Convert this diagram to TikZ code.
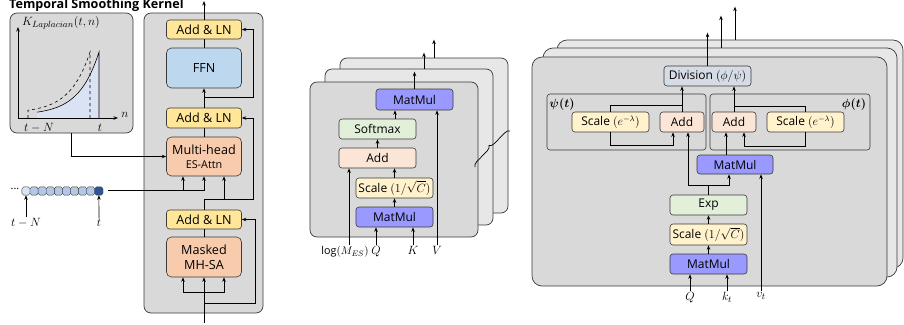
\documentclass[tikz,border=0pt]{standalone}
\usepackage{amsmath}
\usepackage{fontspec}
\setmainfont{Open Sans}
\usepackage{tikz}
\usetikzlibrary{arrows.meta,calc,decorations.pathreplacing}

\definecolor{edgecol}{HTML}{3A3A3A}
\definecolor{panelgray}{HTML}{D9D9D9}
\definecolor{backgray}{HTML}{E7E7E7}
\definecolor{lnyellow}{HTML}{FFE699}
\definecolor{ffnblue}{HTML}{BDD7EE}
\definecolor{attnorange}{HTML}{F8CBAD}
\definecolor{mmpurple}{HTML}{9999FF}
\definecolor{smgreen}{HTML}{E2F0D9}
\definecolor{addpeach}{HTML}{FBE5D6}
\definecolor{scaleyellow}{HTML}{FFF2CC}
\definecolor{divgray}{HTML}{D6DCE5}
\definecolor{kernfill}{HTML}{DAE3F3}
\definecolor{seqlight}{HTML}{DAE3F3}
\definecolor{seqmid}{HTML}{B4C7E7}
\definecolor{seqdark}{HTML}{2F5597}

\newcommand{\bigtxt}{\fontsize{12.6}{15}\selectfont}
\newcommand{\midtxt}{\fontsize{12}{14}\selectfont}
\newcommand{\smltxt}{\fontsize{10.8}{13}\selectfont}
\newcommand{\mathtxt}{\fontsize{13}{15}\selectfont}

\tikzset{
  panel/.style={draw=edgecol, fill=panelgray, line width=0.7pt, rounded corners=7pt, inner sep=0pt},
  backpanel/.style={panel, fill=backgray},
  blk/.style={draw=edgecol, line width=0.6pt, rounded corners=3pt, inner sep=0pt, minimum width=77pt, minimum height=20pt, font=\midtxt},
  bigblk/.style={blk, minimum width=75pt, font=\bigtxt, align=center},
  grp/.style={draw=edgecol, line width=0.6pt, rounded corners=3pt, inner sep=0pt},
  arr/.style={-{Stealth[length=4.5pt,width=3.5pt]}, line width=0.8pt},
  lbl/.style={font=\mathtxt, inner sep=1pt},
}

\begin{document}
\begin{tikzpicture}[x=1pt,y=-1pt]
\useasboundingbox (0,0) rectangle (904,324);

% Temporal smoothing kernel
\begin{scope}
\node[anchor=base west, font=\bfseries\fontsize{12.6}{14}\selectfont, inner sep=0pt] (ktitle) at (9,9) {Temporal Smoothing Kernel};
\node[panel, minimum width=123pt, minimum height=120pt] (kernel) at (71.5,73) {};
\fill[kernfill, domain=37:99, samples=40] (37,118) -- plot (\x,{115-63*exp(0.05*(\x-99))}) -- (99,118) -- cycle;
\draw[line width=0.6pt, domain=37:99, samples=40] plot (\x,{115-63*exp(0.05*(\x-99))}) -- (99,118);
\draw[dashed, line width=0.6pt, domain=28:90, samples=40] (28,118) -- plot (\x,{113-61*exp(0.05*(\x-90))}) -- (90,118);
\draw[arr] (18,118) -- (18,27);
\draw[arr] (18,118) -- (118,118);
\node[lbl, anchor=west] (kname) at (21,23) {$K_{Laplacian}(t,n)$};
\node[lbl] (nlbl) at (125,115) {$n$};
\node[lbl] (tNk) at (39,128) {$t-N$};
\node[lbl] (tk) at (100,128) {$t$};
\end{scope}

% Input sequence
\begin{scope}
\node[font=\smltxt, inner sep=0pt] (dots) at (15,189) {...};
\foreach \i/\c in {0/seqlight,1/seqmid,2/seqmid,3/seqmid,4/seqmid,5/seqmid,6/seqmid,7/seqmid,8/seqmid,9/seqdark}
  \node[draw=edgecol, line width=0.4pt, fill=\c, rounded corners=1.8pt, minimum size=8.2pt, inner sep=0pt] (s\i) at ({26+8.1*\i},191) {};
\node[lbl] (tN) at (26,223) {$t-N$};
\node[lbl] (tT) at (99,223) {$t$};
\draw[arr, line width=0.6pt] (tN.north) -- (s0.south);
\draw[arr, line width=0.6pt] (tT.north) -- (s9.south);
\coordinate (seqout) at (108,190);
\end{scope}

% Transformer layer
\begin{scope}
\node[panel, minimum width=119pt, minimum height=300pt] (enc) at (203.5,163) {};
\node[bigblk, fill=lnyellow, minimum height=19pt] (addA) at (204,29.5) {Add \& LN};
\node[bigblk, fill=ffnblue, minimum height=40pt, rounded corners=5pt] (ffn) at (204,68) {FFN};
\node[bigblk, fill=lnyellow] (addB) at (204,118) {Add \& LN};
\node[bigblk, fill=attnorange, minimum height=39pt, rounded corners=5pt] (mha) at (204,156.5) {Multi-head\\[-1pt]{\smltxt ES-Attn}};
\node[bigblk, fill=lnyellow, minimum height=19pt] (addC) at (204,219.5) {Add \& LN};
\node[bigblk, fill=attnorange, minimum height=40pt, rounded corners=5pt] (msa) at (204,257) {Masked\\MH-SA};
\coordinate (inL) at (204,323);
\coordinate (outL) at (204,1);

\draw[arr] (inL) -- (msa.south);
\draw[arr] (204,292) -| ([xshift=-21pt]msa.south);
\draw[arr] (204,292) -| ([xshift=20pt]msa.south);
\draw[arr] (204,303) -| ([xshift=14pt]addC.east) -- (addC.east);
\draw (msa.north) -- (addC.south);
\draw (addC.north) -- (204,199);
\draw[arr] (204,199) -| ([xshift=12pt]addB.east) -- (addB.east);
\draw[arr] (204,199) -| ([xshift=20pt]mha.south);
\draw[arr] (seqout) -| (mha.south);
\draw[arr] ([xshift=-21pt]mha.south |- seqout) -- ([xshift=-21pt]mha.south);
\draw[arr] (kernel.south) |- (mha.west);
\draw (mha.north) -- (addB.south);
\draw[arr] (addB.north) -- (ffn.south);
\draw[arr] (204,97) -| ([xshift=12pt]addA.east) -- (addA.east);
\draw (ffn.north) -- (addA.south);
\draw[arr] (addA.north) -- (outL);
\end{scope}

% Multi-head ES-Attn, stacked heads
\begin{scope}
\node[backpanel, minimum width=168pt, minimum height=155pt] (h3) at (424,135.5) {};
\node[backpanel, minimum width=168pt, minimum height=156pt] (h2) at (409,147) {};
\node[panel, minimum width=168pt, minimum height=155pt] (h1) at (394,159.5) {};
\node[blk, fill=mmpurple, minimum height=21pt] (mmB) at (414.5,99.5) {MatMul};
\node[blk, fill=smgreen] (sm) at (377.5,129) {Softmax};
\node[blk, fill=addpeach] (addM) at (377.5,158) {Add};
\node[blk, fill=scaleyellow] (scM) at (394.5,188) {Scale $(1/\sqrt{C})$};
\node[blk, fill=mmpurple] (mmA) at (394.5,217) {MatMul};
\node[lbl, anchor=north, font=\smltxt] (logM) at (345,245) {$\log(M_{ES})$};
\node[lbl, anchor=north] (qM) at (376,245) {$Q$};
\node[lbl, anchor=north] (kM) at (413,245) {$K$};
\node[lbl, anchor=north] (vM) at (437,245) {$V$};

\draw[arr] (mmA.north) -- (scM.south);
\draw[arr] (scM.north) -- (scM.north |- addM.south);
\draw[arr] (addM.north) -- (sm.south);
\draw[arr] ([xshift=17.5pt]sm.north) -- ([xshift=17.5pt]sm.north |- mmB.south);
\draw[arr] ([xshift=4pt]logM.north) -- ([xshift=4pt]logM.north |- addM.south);
\draw[arr] (qM.north) -- (qM.north |- mmA.south);
\draw[arr] (kM.north) -- (kM.north |- mmA.south);
\draw[arr] (vM.north) -- (vM.north |- mmB.south);
\draw[arr] (mmB.north) -- ++(0,-17);
\draw[arr] ([xshift=15pt]h2.north) -- ++(0,-16);
\draw[arr] ([xshift=10pt]h3.north) -- ++(0,-18);
\draw[line width=0.7pt, decorate, decoration={brace, amplitude=5pt}] (475,167) -- (510,131);
\end{scope}

% Exponential smoothing attention, stacked heads
\begin{scope}
\node[backpanel, rounded corners=10pt, minimum width=346pt, minimum height=228pt] (r3) at (730,154) {};
\node[backpanel, rounded corners=10pt, minimum width=354pt, minimum height=229pt] (r2) at (720,162.5) {};
\node[panel, rounded corners=10pt, minimum width=355pt, minimum height=229pt] (r1) at (709.5,171.5) {};
\node[grp, minimum width=159pt, minimum height=56pt] (gpsi) at (626.5,122) {};
\node[grp, minimum width=160pt, minimum height=56pt] (gphi) at (790,122) {};
\node[font=\mathtxt\boldmath, inner sep=0pt] (psilbl) at (562,104) {$\psi(t)$};
\node[font=\mathtxt\boldmath, inner sep=0pt] (philbl) at (854,104) {$\phi(t)$};
\node[blk, fill=divgray, minimum width=87pt] (div) at (707.5,76) {Division $(\phi/\psi)$};
\node[blk, fill=scaleyellow] (scL) at (610.5,122) {Scale $(e^{-\lambda})$};
\node[blk, fill=addpeach, minimum width=44pt] (addL) at (682,122) {Add};
\node[blk, fill=addpeach, minimum width=44pt] (addR) at (734,122) {Add};
\node[blk, fill=scaleyellow] (scR) at (805.5,122) {Scale $(e^{-\lambda})$};
\node[blk, fill=mmpurple, minimum width=76pt, minimum height=19pt] (mmD) at (735,164.5) {MatMul};
\node[blk, fill=smgreen] (ex) at (708.5,205) {Exp};
\node[blk, fill=scaleyellow, minimum height=21pt] (scE) at (708.5,234.5) {Scale $(1/\sqrt{C})$};
\node[blk, fill=mmpurple] (mmC) at (708.5,264) {MatMul};
\node[lbl, anchor=north] (qE) at (690,291) {$Q$};
\node[lbl, anchor=north] (kE) at (727,291) {$k_t$};
\node[lbl, anchor=north] (vE) at (761,291) {$v_t$};
\coordinate (exj) at (708.5,185);

\draw[arr] (qE.north) -- (qE.north |- mmC.south);
\draw[arr] (kE.north) -- (kE.north |- mmC.south);
\draw[arr] (vE.north) -- (vE.north |- mmD.south);
\draw[arr] (mmC.north) -- (scE.south);
\draw[arr] (scE.north) -- (ex.south);
\draw (ex.north) -- (exj);
\draw[arr] (exj) -| ([xshift=-6pt]mmD.south);
\draw[arr] (exj) -| ([xshift=6pt]addL.south);
\draw[arr] ([xshift=-8pt]addR.south |- mmD.north) -- ([xshift=-8pt]addR.south);
\draw[arr] (scL.south) -- ++(0,13) -| ([xshift=-9pt]addL.south);
\draw (scL.north) |- ([yshift=7pt]addL.north);
\draw[arr] (addL.north) -- (addL.north |- div.south);
\draw[arr] (scR.south) -- ++(0,14) -| ([xshift=10pt]addR.south);
\draw (scR.north) |- ([yshift=6pt]addR.north);
\draw[arr] (addR.north) -- (addR.north |- div.south);
\draw[arr] (div.north) -- ++(0,-33);
\draw[arr] ([xshift=1pt]r2.north) -- ++(0,-32);
\draw[arr] ([xshift=5pt]r3.north) -- ++(0,-33);
\end{scope}
\end{tikzpicture}
\end{document}
